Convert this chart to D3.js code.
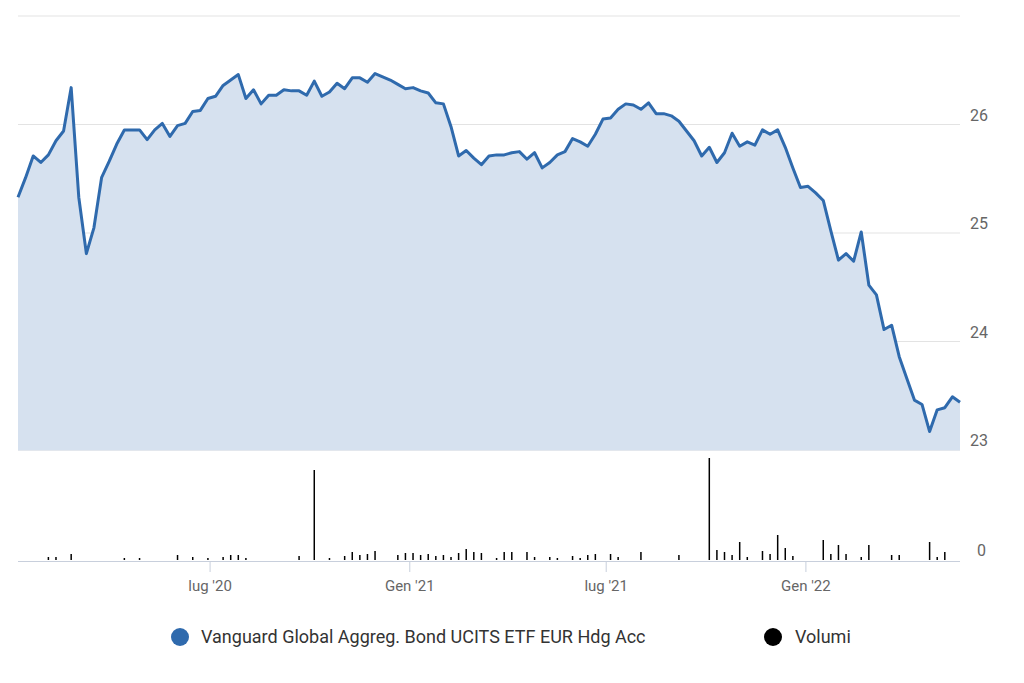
<!DOCTYPE html>
<html>
<head>
<meta charset="utf-8">
<script src="https://cdn.jsdelivr.net/npm/d3@7"></script>
<style>
  body { margin: 0; background: #fff; }
  text { font-family: Roboto, "Noto Sans", sans-serif; }
</style>
</head>
<body>
<svg id="chart" width="1024" height="683"></svg>
<script>
// weekly closes, starting the first week of Jan 2020
var startDate = new Date(2020, 0, 6);
var prices = [25.33, 25.51, 25.71, 25.65, 25.72, 25.85, 25.94, 26.34, 25.33, 24.81,
  25.05, 25.51, 25.66, 25.82, 25.95, 25.95, 25.95, 25.86, 25.95, 26.01,
  25.89, 25.99, 26.01, 26.12, 26.13, 26.24, 26.26, 26.36, 26.41, 26.46,
  26.24, 26.32, 26.19, 26.27, 26.27, 26.32, 26.31, 26.31, 26.27, 26.40,
  26.26, 26.30, 26.38, 26.33, 26.43, 26.43, 26.39, 26.47, 26.44, 26.41,
  26.37, 26.33, 26.34, 26.31, 26.29, 26.20, 26.19, 25.98, 25.71, 25.76,
  25.69, 25.63, 25.71, 25.72, 25.72, 25.74, 25.75, 25.68, 25.74, 25.60,
  25.65, 25.72, 25.75, 25.87, 25.84, 25.80, 25.91, 26.05, 26.06, 26.14,
  26.19, 26.18, 26.14, 26.20, 26.10, 26.10, 26.08, 26.03, 25.94, 25.85,
  25.71, 25.79, 25.65, 25.74, 25.92, 25.80, 25.84, 25.81, 25.95, 25.91,
  25.95, 25.79, 25.60, 25.42, 25.43, 25.37, 25.30, 25.02, 24.75, 24.81,
  24.74, 25.01, 24.52, 24.43, 24.11, 24.15, 23.86, 23.66, 23.46, 23.42,
  23.17, 23.37, 23.39, 23.49, 23.44];
var volumes = [0, 0, 0, 0, 3, 3, 0, 6, 0, 0, 0, 0, 0, 0, 2, 0, 2, 0, 0, 0,
  0, 5, 0, 3, 0, 2, 0, 3, 5, 5, 2, 0, 0, 0, 0, 0, 0, 4, 0, 90,
  0, 2, 0, 4, 8, 5, 6, 9, 0, 0, 5, 7, 7, 5, 6, 4, 5, 3, 7, 11,
  8, 7, 0, 2, 8, 8, 0, 8, 3, 0, 3, 2, 0, 4, 2, 5, 6, 0, 6, 3,
  0, 0, 8, 0, 0, 0, 0, 5, 0, 0, 0, 102, 10, 8, 5, 18, 3, 0, 9, 6,
  25, 12, 4, 0, 0, 0, 20, 6, 15, 6, 0, 3, 15, 0, 0, 5, 5, 0, 0, 0,
  18, 3, 8, 0, 0];
var priceTicks = [23, 24, 25, 26];
var xTicks = [new Date(2020, 6, 1), new Date(2021, 0, 1), new Date(2021, 6, 1), new Date(2022, 0, 1)];
var xTickLabels = ["lug '20", "Gen '21", "lug '21", "Gen '22"];
var seriesName = "Vanguard Global Aggreg. Bond UCITS ETF EUR Hdg Acc";
var volumeName = "Volumi";

var data = prices.map(function(p, i) {
  return { date: d3.timeDay.offset(startDate, i * 7), price: p, vol: volumes[i] || 0 };
});

var svg = d3.select("#chart");
var left = 18, right = 960;

var x = d3.scaleTime().domain(d3.extent(data, function(d) { return d.date; })).range([left, right]);
var y = d3.scaleLinear().domain([23, 27]).range([450, 16]);
var yv = d3.scaleLinear().domain([0, 100]).range([560, 460]);

// grid
svg.selectAll(".grid").data([23, 24, 25, 26, 27]).enter().append("line")
  .attr("x1", left).attr("x2", right)
  .attr("y1", function(d) { return y(d); }).attr("y2", function(d) { return y(d); })
  .attr("stroke", function(d) { return d === 23 ? "#c8cfdc" : "#e3e3e3"; })
  .attr("stroke-width", 1);

svg.append("path").datum(data)
  .attr("fill", "#d6e1ef")
  .attr("d", d3.area().x(function(d) { return x(d.date); }).y0(y(23)).y1(function(d) { return y(d.price); }));

svg.append("path").datum(data)
  .attr("fill", "none").attr("stroke", "#2f6aad").attr("stroke-width", 3).attr("stroke-linejoin", "round")
  .attr("d", d3.line().x(function(d) { return x(d.date); }).y(function(d) { return y(d.price); }));

svg.selectAll(".ylab").data(priceTicks).enter().append("text")
  .attr("x", 970).attr("y", function(d) { return y(d) - 4; })
  .attr("fill", "#666").attr("font-size", 16).text(function(d) { return d; });

// volume panel
svg.append("line").attr("x1", left).attr("x2", right).attr("y1", 561.5).attr("y2", 561.5)
  .attr("stroke", "#c8cfdc");
svg.selectAll(".vol").data(data.filter(function(d) { return d.vol > 0; })).enter().append("line")
  .attr("x1", function(d) { return x(d.date); }).attr("x2", function(d) { return x(d.date); })
  .attr("y1", yv(0)).attr("y2", function(d) { return yv(d.vol); })
  .attr("stroke", "#000").attr("stroke-width", 1.5);
svg.append("text").attr("x", 977).attr("y", 556).attr("fill", "#666").attr("font-size", 16).text("0");

// x axis
svg.selectAll(".xt").data(xTicks).enter().append("line")
  .attr("x1", function(d) { return x(d); }).attr("x2", function(d) { return x(d); })
  .attr("y1", 562).attr("y2", 572).attr("stroke", "#c8cfdc");
svg.selectAll(".xl").data(xTicks).enter().append("text")
  .attr("x", function(d) { return x(d); }).attr("y", 591)
  .attr("text-anchor", "middle").attr("fill", "#666").attr("font-size", 15)
  .text(function(d, i) { return xTickLabels[i]; });

// legend
svg.append("circle").attr("cx", 180).attr("cy", 637).attr("r", 9).attr("fill", "#2f6aad");
svg.append("text").attr("x", 201).attr("y", 643).attr("font-size", 18).attr("fill", "#333").text(seriesName);
svg.append("circle").attr("cx", 773).attr("cy", 637).attr("r", 9).attr("fill", "#000");
svg.append("text").attr("x", 795).attr("y", 643).attr("font-size", 18).attr("fill", "#333").text(volumeName);
</script>
</body>
</html>
